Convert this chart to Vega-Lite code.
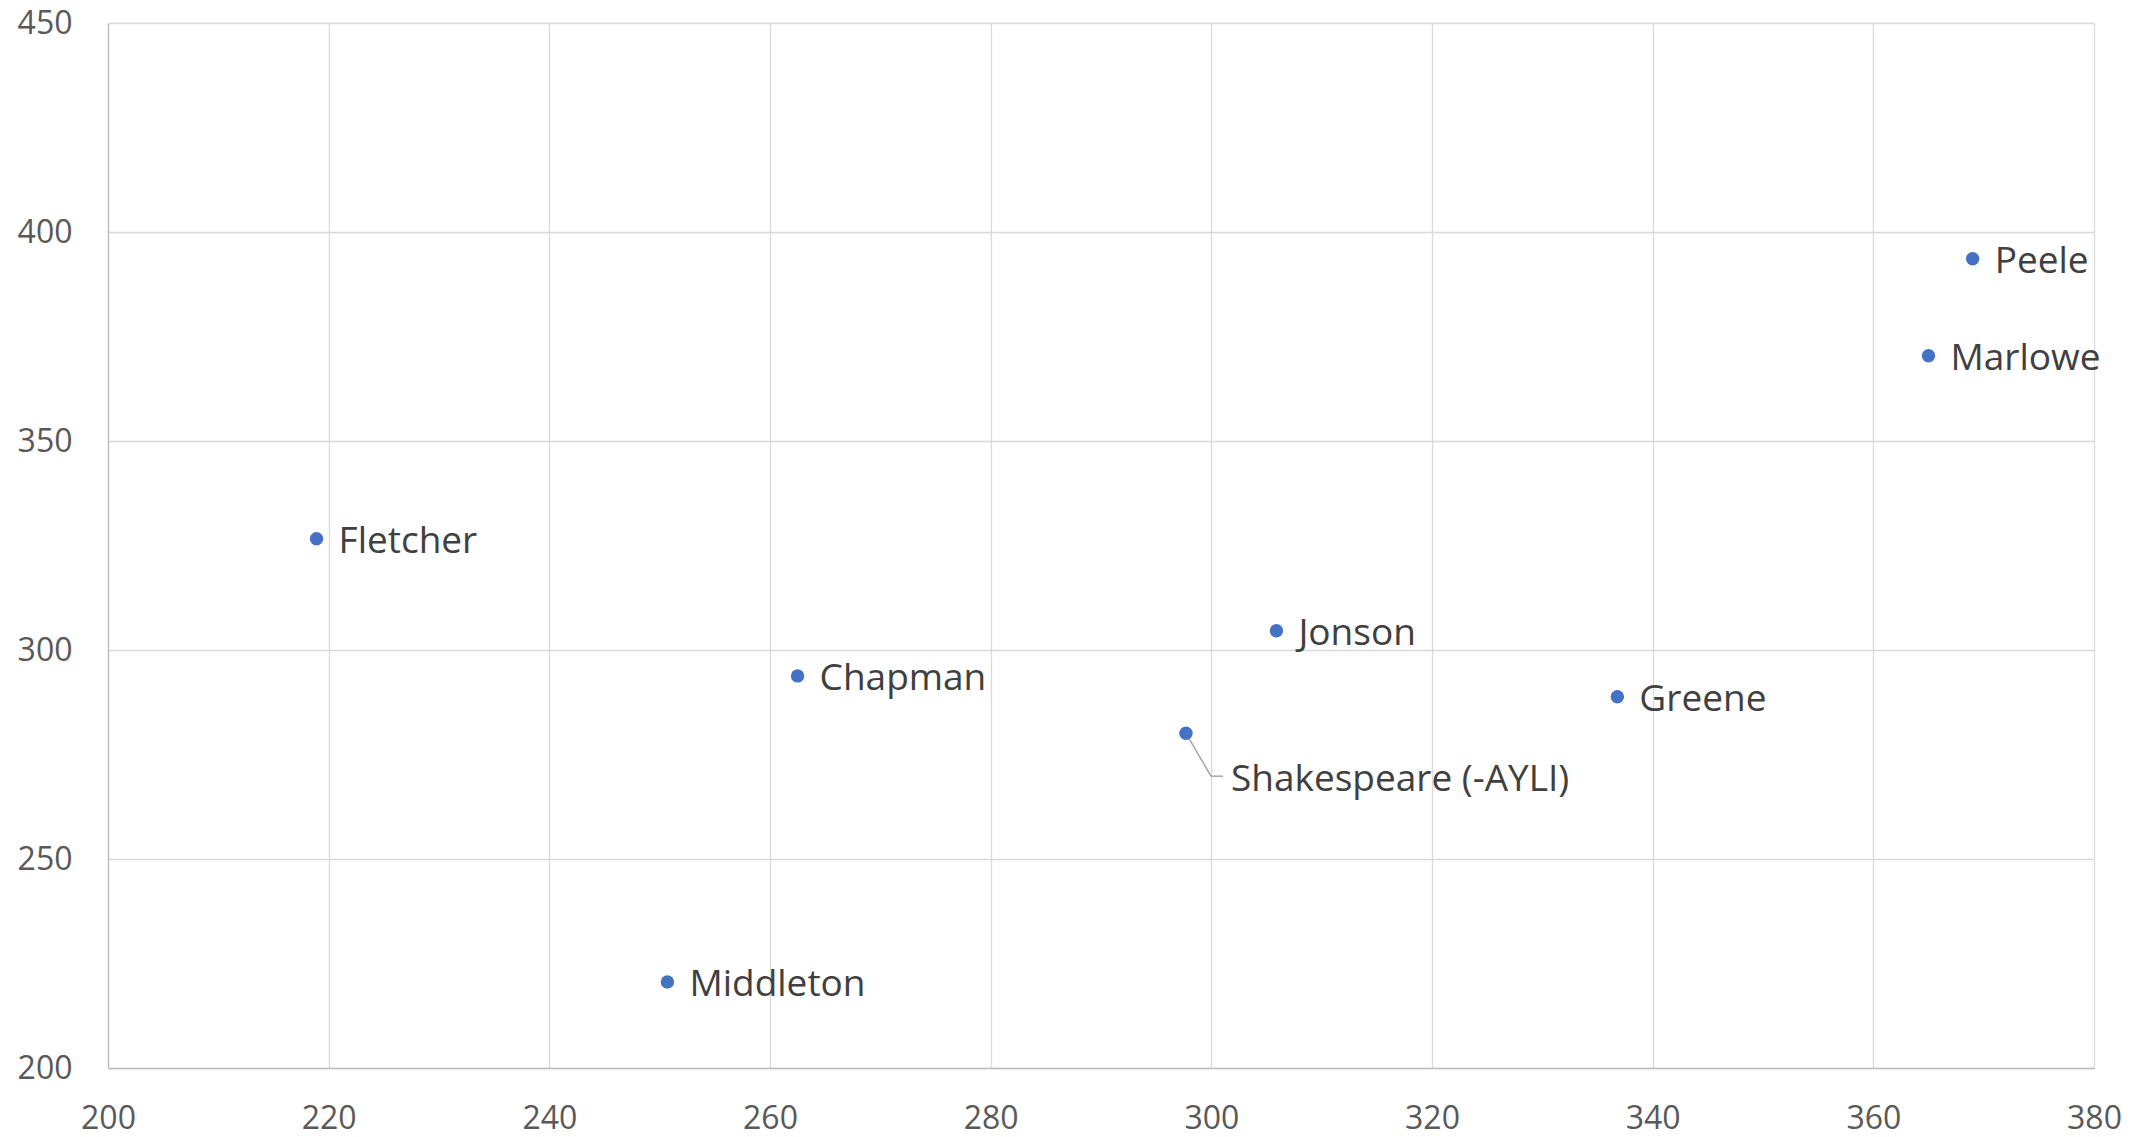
{
  "$schema": "https://vega.github.io/schema/vega-lite/v6.json",
  "autosize": {"type": "none"},
  "width": 1986,
  "height": 1045,
  "padding": {"left": 108, "top": 23, "right": 47, "bottom": 69},
  "background": "white",
  "config": {
    "view": {"stroke": null},
    "font": "Open Sans"
  },
  "data": {
    "values": [
      {"author": "Peele", "x": 369.0, "y": 393.6},
      {"author": "Marlowe", "x": 365.0, "y": 370.4},
      {"author": "Fletcher", "x": 218.9, "y": 326.6},
      {"author": "Jonson", "x": 305.9, "y": 304.6},
      {"author": "Chapman", "x": 262.5, "y": 293.8},
      {"author": "Greene", "x": 336.8, "y": 288.8},
      {"author": "Shakespeare (-AYLI)", "x": 297.7, "y": 280.1},
      {"author": "Middleton", "x": 250.7, "y": 220.6}
    ]
  },
  "encoding": {
    "x": {
      "field": "x", "type": "quantitative",
      "scale": {"domain": [200, 380], "nice": false, "zero": false},
      "axis": {
        "title": null, "values": [200, 220, 240, 260, 280, 300, 320, 340, 360, 380],
        "grid": true, "gridColor": "#d9d9d9", "gridWidth": 1.3,
        "domainColor": "#bfbfbf", "domainWidth": 1.3,
        "ticks": false, "tickSize": 0,
        "labelFont": "Open Sans", "labelFontSize": 32, "labelColor": "#595959",
        "labelBaseline": "alphabetic", "labelPadding": 60, "labelFlush": false, "labelOverlap": false
      }
    },
    "y": {
      "field": "y", "type": "quantitative",
      "scale": {"domain": [200, 450], "nice": false, "zero": false},
      "axis": {
        "title": null, "values": [200, 250, 300, 350, 400, 450],
        "grid": true, "gridColor": "#d9d9d9", "gridWidth": 1.3,
        "domainColor": "#bfbfbf", "domainWidth": 1.3,
        "ticks": false, "tickSize": 0,
        "labelFont": "Open Sans", "labelFontSize": 32, "labelColor": "#595959",
        "labelPadding": 36, "labelFlush": false, "labelOverlap": false
      }
    }
  },
  "layer": [
    {
      "mark": {"type": "rule", "x2Offset": 25, "y2Offset": 43, "color": "#a6a6a6", "strokeWidth": 1.5},
      "transform": [{"filter": "datum.author === 'Shakespeare (-AYLI)'"}],
      "encoding": {"x2": {"field": "x"}, "y2": {"field": "y"}}
    },
    {
      "mark": {"type": "rule", "xOffset": 25, "yOffset": 43, "x2Offset": 37, "y2Offset": 43, "color": "#a6a6a6", "strokeWidth": 1.5},
      "transform": [{"filter": "datum.author === 'Shakespeare (-AYLI)'"}],
      "encoding": {"x2": {"field": "x"}, "y2": {"field": "y"}}
    },
    {
      "mark": {"type": "point", "filled": true, "shape": "circle", "size": 180, "color": "#4472C4", "opacity": 1}
    },
    {
      "mark": {"type": "text", "align": "left", "baseline": "alphabetic", "dx": 22, "dy": 14, "fontSize": 37, "font": "Open Sans", "color": "#404040"},
      "transform": [{"filter": "datum.author !== 'Shakespeare (-AYLI)'"}],
      "encoding": {"text": {"field": "author"}}
    },
    {
      "mark": {"type": "text", "align": "left", "baseline": "alphabetic", "dx": 45, "dy": 58, "fontSize": 37, "font": "Open Sans", "color": "#404040"},
      "transform": [{"filter": "datum.author === 'Shakespeare (-AYLI)'"}],
      "encoding": {"text": {"field": "author"}}
    }
  ]
}
